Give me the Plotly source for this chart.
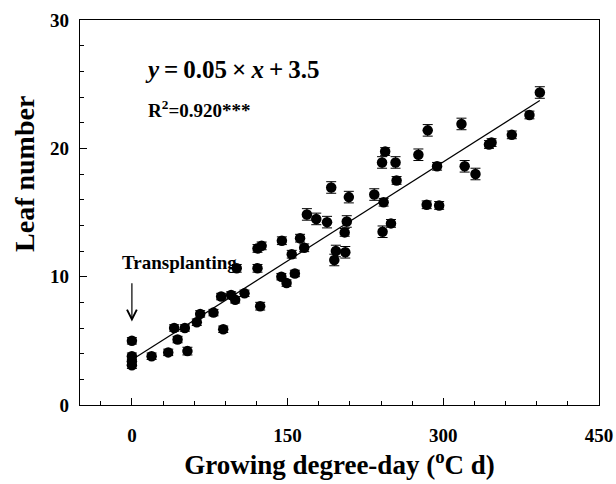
import plotly.graph_objects as go

# Growing degree-day (°C d) and leaf number observations
gdd = [0, 0, 0, 0, 19, 35, 44, 40.7, 51, 53.5, 62.5, 65.8, 78.6, 88, 86, 95.6,
       99.5, 108.5, 123.6, 101, 121, 144, 149, 157, 121, 125, 144.5, 162, 166,
       154, 168.6, 177.6, 188, 207, 205, 192, 209, 196.5, 205.6, 195, 233.5,
       242.5, 241.5, 249.6, 241, 244, 254, 255, 276, 285, 284, 296, 294, 317.5,
       320.6, 331, 344, 346.5, 366, 383, 393]
leaves = [5.0, 3.8, 3.4, 3.1, 3.8, 4.1, 5.1, 6.0, 6.0, 4.2, 6.45, 7.1, 7.2, 5.9,
          8.45, 8.57, 8.2, 8.7, 7.7, 10.65, 10.65, 10.0, 9.5, 10.25, 12.2, 12.4,
          12.8, 13.0, 12.25, 11.75, 14.85, 14.5, 14.25, 14.3, 13.45, 16.95, 16.2,
          12.0, 11.9, 11.3, 16.4, 15.8, 13.5, 14.15, 18.9, 19.75, 18.9, 17.5,
          19.5, 21.4, 15.6, 15.55, 18.6, 21.9, 18.6, 18.0, 20.3, 20.45, 21.05,
          22.6, 24.35]
leaf_err = [0.25, 0.25, 0.25, 0.25, 0.25, 0.25, 0.25, 0.25, 0.25, 0.3, 0.25,
            0.25, 0.25, 0.25, 0.25, 0.25, 0.25, 0.25, 0.3, 0.3, 0.3, 0.25, 0.25,
            0.25, 0.3, 0.3, 0.3, 0.3, 0.3, 0.3, 0.45, 0.45, 0.45, 0.45, 0.3, 0.45,
            0.45, 0.45, 0.45, 0.45, 0.45, 0.3, 0.45, 0.3, 0.45, 0.3, 0.45, 0.3,
            0.45, 0.45, 0.3, 0.3, 0.3, 0.45, 0.45, 0.45, 0.3, 0.3, 0.3, 0.3, 0.45]

# Linear regression of leaf number on growing degree-day
slope = 0.0514
intercept = 3.52
r_squared = 0.920
x_ticks = [0, 150, 300, 450]
y_ticks = [0, 10, 20, 30]

serif = "Liberation Serif, Times New Roman, serif"

fit_x = [min(gdd), max(gdd)]
fit_y = [slope * v + intercept for v in fit_x]

fig = go.Figure()
fig.add_trace(go.Scatter(
    x=fit_x, y=fit_y, mode="lines",
    line=dict(color="black", width=1.2), showlegend=False, hoverinfo="skip"))
fig.add_trace(go.Scatter(
    x=gdd, y=leaves, mode="markers",
    marker=dict(color="black", size=10.5, line=dict(width=0)),
    error_y=dict(type="data", array=leaf_err, color="black",
                 thickness=1, width=5),
    showlegend=False))

sp = "\u2009"
fig.add_annotation(
    xref="paper", yref="paper", x=0.122, y=0.872, xanchor="left",
    yanchor="middle", showarrow=False,
    text=(f"<i>y</i>{sp}={sp}{slope:.2f}{sp}\u00d7{sp}<i>x</i>{sp}+{sp}"
          f"{intercept:.1f}"),
    font=dict(family=serif, size=25, color="black", weight="bold"))
fig.add_annotation(
    xref="paper", yref="paper", x=0.128, y=0.770, xanchor="left",
    yanchor="middle", showarrow=False,
    text=f"R<sup>2</sup>={r_squared:.3f}***",
    font=dict(family=serif, size=19, color="black", weight="bold"))
fig.add_annotation(
    xref="paper", yref="paper", x=0.078, y=0.371, xanchor="left",
    yanchor="middle", showarrow=False, text="Transplanting",
    font=dict(family=serif, size=19, color="black", weight="bold"))
# Arrow marking the transplanting date
fig.add_annotation(
    x=0, y=6.5, ax=0, ay=9.6, xref="x", yref="y", axref="x", ayref="y",
    text="", showarrow=True, arrowhead=5, arrowsize=1.6, arrowwidth=1.2,
    arrowcolor="black")
# Y-axis title
fig.add_annotation(
    xref="paper", yref="paper", x=-0.108, y=0.60, xanchor="center",
    yanchor="middle", showarrow=False, text="Leaf number", textangle=-90,
    font=dict(family=serif, size=28, color="black", weight="bold"))

axis_common = dict(
    showline=True, linecolor="black", linewidth=1.2, mirror=True,
    ticks="inside", tickcolor="black", ticklen=7, tickwidth=1,
    showgrid=False, zeroline=False,
    tickfont=dict(family=serif, size=19, color="black", weight="bold"))

fig.update_xaxes(
    range=[-50, 450], tickvals=x_ticks, ticklabelstandoff=13,
    minor=dict(dtick=30, tick0=0, ticks="inside", ticklen=4,
               tickcolor="black", showgrid=False),
    title=dict(text="Growing degree-day (<sup>o</sup>C d)", standoff=3,
               font=dict(family=serif, size=27, color="black", weight="bold")),
    **axis_common)
fig.update_yaxes(
    range=[0, 30], tickvals=y_ticks, ticklabelstandoff=6,
    minor=dict(dtick=2, tick0=0, ticks="inside", ticklen=4,
               tickcolor="black", showgrid=False),
    **axis_common)

fig.update_layout(
    width=616, height=484,
    margin=dict(l=80, r=17, t=20, b=79, autoexpand=False),
    plot_bgcolor="white", paper_bgcolor="white")

fig.write_html("out.html")
